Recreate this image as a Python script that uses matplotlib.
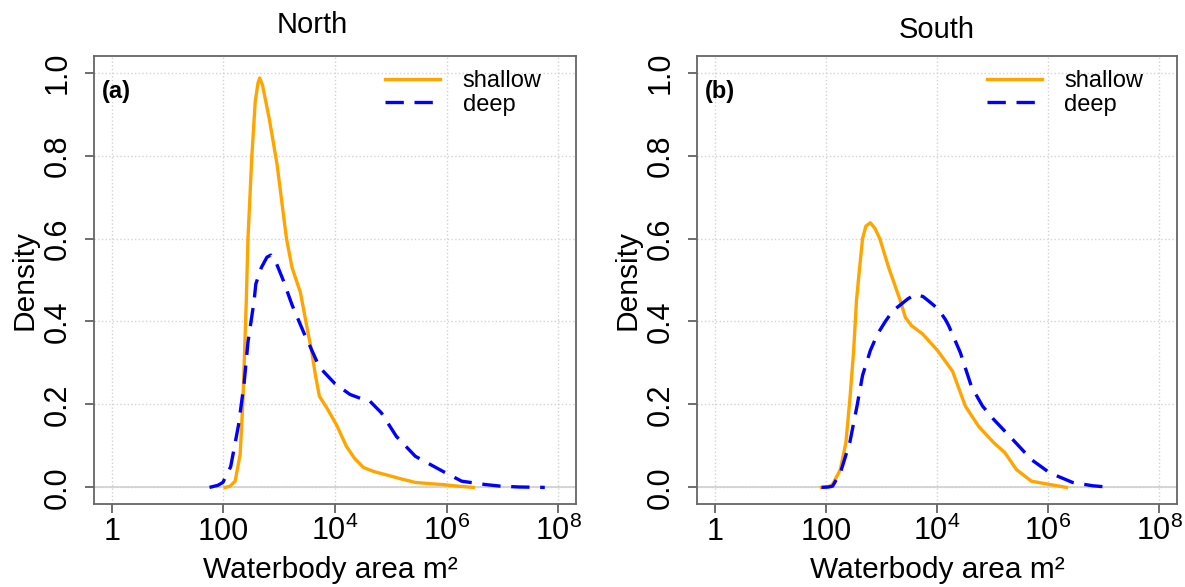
import numpy as np
import matplotlib
matplotlib.use("Agg")
import matplotlib.pyplot as plt

plt.rcParams['font.family'] = ['Liberation Sans', 'DejaVu Sans']

# log10 of waterbody area (m2) and kernel density
north_shallow_log = [2.03, 2.12, 2.21, 2.30, 2.35, 2.41, 2.44, 2.51, 2.57, 2.62, 2.65, 2.70,
                     2.76, 2.82, 2.96, 3.13, 3.23, 3.38, 3.52, 3.58, 3.65, 3.72, 3.86, 4.03,
                     4.20, 4.35, 4.51, 4.70, 4.90, 5.20, 5.44, 5.70, 5.92, 6.20, 6.48]
north_shallow_dens = [0, 0.003, 0.015, 0.08, 0.21, 0.45, 0.60, 0.80, 0.93, 0.975, 0.987, 0.97,
                      0.93, 0.89, 0.78, 0.60, 0.53, 0.47, 0.37, 0.33, 0.27, 0.22, 0.19, 0.15,
                      0.10, 0.07, 0.048, 0.038, 0.031, 0.02, 0.012, 0.009, 0.007, 0.003, 0.0]
north_deep_log = [1.75, 1.90, 1.99, 2.13, 2.27, 2.37, 2.44, 2.55, 2.58, 2.68, 2.78, 2.85,
                  2.95, 3.07, 3.23, 3.45, 3.52, 3.72, 4.00, 4.27, 4.45, 4.61, 4.83, 5.10,
                  5.44, 5.93, 6.27, 6.69, 6.97, 7.30, 7.76]
north_deep_dens = [0, 0.005, 0.012, 0.05, 0.15, 0.25, 0.35, 0.45, 0.49, 0.53, 0.555, 0.56,
                   0.54, 0.50, 0.44, 0.37, 0.35, 0.29, 0.25, 0.224, 0.215, 0.21, 0.18, 0.123,
                   0.075, 0.039, 0.015, 0.007, 0.003, 0.001, 0]

south_shallow_log = [1.92, 2.05, 2.12, 2.26, 2.36, 2.43, 2.50, 2.55, 2.60, 2.66, 2.72, 2.80,
                     2.88, 2.97, 3.13, 3.34, 3.43, 3.54, 3.74, 4.01, 4.28, 4.51, 4.75, 5.02,
                     5.22, 5.43, 5.70, 6.03, 6.33]
south_shallow_dens = [0, 0.002, 0.007, 0.043, 0.108, 0.21, 0.33, 0.45, 0.52, 0.60, 0.63, 0.638,
                      0.625, 0.60, 0.53, 0.45, 0.41, 0.39, 0.37, 0.33, 0.28, 0.196, 0.147, 0.108,
                      0.084, 0.043, 0.015, 0.007, 0]
south_deep_log = [1.92, 2.05, 2.12, 2.26, 2.43, 2.56, 2.66, 2.80, 2.93, 3.07, 3.20, 3.34,
                  3.48, 3.61, 3.75, 3.88, 4.02, 4.15, 4.21, 4.42, 4.62, 4.82, 5.02, 5.36,
                  5.70, 6.03, 6.44, 6.80, 7.14]
south_deep_dens = [0, 0.001, 0.003, 0.035, 0.108, 0.196, 0.27, 0.33, 0.37, 0.40, 0.425, 0.44,
                   0.455, 0.465, 0.46, 0.446, 0.43, 0.405, 0.39, 0.325, 0.243, 0.196, 0.164, 0.116,
                   0.067, 0.035, 0.012, 0.004, 0]

x_ticks = [1, 1e2, 1e4, 1e6, 1e8]
x_ticklabels = ['1', '100', r'$\mathregular{10^4}$', r'$\mathregular{10^6}$', r'$\mathregular{10^8}$']
y_ticks = [0.0, 0.2, 0.4, 0.6, 0.8, 1.0]
y_ticklabels = ['0.0', '0.2', '0.4', '0.6', '0.8', '1.0']

panels = [
    ("North", "(a)", north_shallow_log, north_shallow_dens, north_deep_log, north_deep_dens),
    ("South", "(b)", south_shallow_log, south_shallow_dens, south_deep_log, south_deep_dens),
]

W, H = 1185, 587
fig = plt.figure(figsize=(W / 100, H / 100), dpi=100)
boxes = [(94, 576), (697, 1177)]
top, bottom = 56, 504
title_x = [0.452, 0.5]
title_pad = [16.5, 13]

for i, (title, tag, sl, sd, dl, dd) in enumerate(panels):
    x0, x1 = boxes[i]
    ax = fig.add_axes([x0 / W, (H - bottom) / H, (x1 - x0) / W, (bottom - top) / H])
    ax.set_xscale('log')
    ax.grid(True, color='#d3d3d3', linestyle=':', linewidth=1)
    ax.set_axisbelow(True)
    ax.axhline(0, color='#cfcfcf', lw=1.2, zorder=1)
    ax.plot(10 ** np.array(sl), sd, color='orange', lw=2.4, label='shallow', zorder=3)
    ax.plot(10 ** np.array(dl), dd, color='blue', lw=2.4, dashes=(5.5, 3.2),
            label='deep', zorder=3)
    ax.set_xlim(10 ** -0.32, 10 ** 8.32)
    ax.set_ylim(-0.04, 1.04)
    ax.minorticks_off()
    ax.set_xticks(x_ticks)
    ax.set_xticklabels(x_ticklabels)
    ax.set_yticks(y_ticks)
    ax.set_yticklabels(y_ticklabels)
    ax.tick_params(axis='both', length=6.5, width=1.2, color='#555555', labelsize=22)
    ax.tick_params(axis='x', pad=19.4)
    ax.tick_params(axis='y', pad=9, labelrotation=90)
    for lab in ax.get_xticklabels():
        lab.set_verticalalignment('baseline')
    for lab in ax.get_yticklabels():
        lab.set_verticalalignment('center')
    for s in ax.spines.values():
        s.set_color('#666666')
        s.set_linewidth(1.3)
    ax.set_title(title, fontsize=21, x=title_x[i], pad=title_pad[i])
    ax.set_xlabel('Waterbody area m²', fontsize=21.5)
    ax.xaxis.set_label_coords(0.49 if i == 0 else 0.5, -0.116)
    ax.xaxis.label.set_verticalalignment('top')
    ax.set_ylabel('Density', fontsize=21.5)
    ax.yaxis.set_label_coords(-0.115, 0.5)
    ax.text(0.017, 0.92, tag, transform=ax.transAxes, fontsize=17, fontweight='bold',
            va='center', ha='left')
    ax.legend(loc='upper left', bbox_to_anchor=(0.604, 0.968), frameon=False, fontsize=17,
              handlelength=2.33, handletextpad=0.95, labelspacing=0.06,
              borderpad=0, borderaxespad=0)

fig.savefig('out.png', dpi=100)
